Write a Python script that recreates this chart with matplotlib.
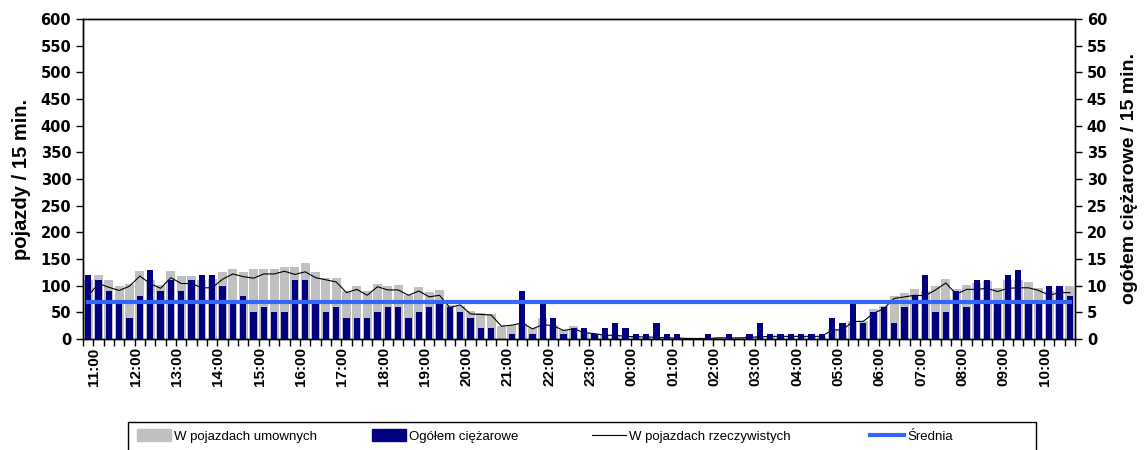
import matplotlib
matplotlib.use("Agg")
import numpy as np
import matplotlib.pyplot as plt
from matplotlib.patches import Patch, Rectangle
from matplotlib.lines import Line2D

plt.rcParams['font.family'] = ['Liberation Sans', 'DejaVu Sans']

godziny = ["11:00", "12:00", "13:00", "14:00", "15:00", "16:00", "17:00", "18:00",
           "19:00", "20:00", "21:00", "22:00", "23:00", "00:00", "01:00", "02:00",
           "03:00", "04:00", "05:00", "06:00", "07:00", "08:00", "09:00", "10:00"]

# pojazdy umowne / 15 min (lewa os)
umowne = [110, 120, 111, 99, 104, 128, 110, 102, 128, 119, 118, 110, 112, 126, 132, 126, 132, 132, 131,
          135, 135, 142, 126, 115, 114, 90, 99, 90, 103, 99, 101, 82, 97, 88, 92, 64, 62, 52,
          48, 46, 24, 26, 30, 20, 40, 26, 16, 24, 14, 10, 8, 8,
          6, 5, 4, 4, 3, 2, 1, 1, 2, 3, 3, 3, 5, 6, 6, 6, 6, 6, 6, 6,
          18, 18, 34, 34, 56, 61, 81, 86, 94, 90, 99, 112, 94, 101, 105, 108, 96, 110, 111, 107, 96, 90, 92, 99]

# pojazdy rzeczywiste / 15 min (lewa os)
rzeczywiste = [81, 104, 97, 91, 99, 118, 104, 95, 115, 104, 104, 96, 96, 112, 122, 117, 114, 122, 122,
               127, 121, 126, 115, 111, 107, 87, 93, 82, 98, 92, 92, 82, 90, 79, 82, 59, 64, 47,
               46, 45, 24, 26, 30, 19, 27, 25, 16, 19, 12, 10, 7, 7,
               5, 4, 4, 3, 2, 2, 1, 1, 1, 2, 2, 2, 3, 4, 5, 5, 5, 5, 5, 5,
               17, 17, 33, 33, 48, 57, 76, 79, 82, 81, 92, 105, 84, 93, 93, 95, 89, 95, 96, 96, 91, 82, 87, 87]

# ogolem ciezarowe / 15 min (prawa os)
ciezarowe = [12, 11, 9, 7, 4, 8, 13, 9, 11, 9, 11, 12, 12, 10, 7, 8, 5, 6, 5, 5,
             11, 11, 7, 5, 6, 4, 4, 4, 5, 6, 6, 4, 5, 6, 7, 6, 5, 4,
             2, 2, 0, 1, 9, 1, 7, 4, 1, 2, 2, 1, 2, 3, 2, 1, 1, 3, 1, 1,
             0, 0, 1, 0, 1, 0, 1, 3, 1, 1, 1, 1, 1, 1,
             4, 3, 7, 3, 5, 6, 3, 6, 8, 12, 5, 5, 9, 6, 11, 11, 7, 12, 13, 7, 7, 10, 10, 8]

srednia = 69  # w jednostkach lewej osi

x = np.arange(len(umowne))

fig = plt.figure(figsize=(11.44, 4.5), dpi=100)
ax = fig.add_axes([83 / 1144, 1 - 339 / 450, 992 / 1144, 320 / 450])
ax2 = ax.twinx()

ax.bar(x, umowne, width=0.85, color='#C0C0C0', zorder=2)
ax.plot(x, rzeczywiste, color='black', lw=0.8, zorder=3)
ax2.bar(x, ciezarowe, width=0.62, color='#000080', zorder=2)
# srednia przeliczona na skale prawej osi (600 -> 60)
ax2.plot(x, [srednia / 10] * len(x), color='#3366FF', lw=3, zorder=4)

ax.set_xlim(-0.5, len(x) - 0.5)
ax.set_ylim(0, 600)
ax2.set_ylim(0, 60)
ax.set_yticks(np.arange(0, 601, 50))
ax2.set_yticks(np.arange(0, 61, 5))

# podpisy godzin lekko przesuniete w prawo, jak w oryginale
ax.set_xticks(np.arange(0, len(x), 4) + 0.6)
ax.set_xticklabels(godziny, rotation=90, fontweight='bold', fontsize=11)
ax.set_xticks(np.arange(-0.5, len(x), 1), minor=True)
ax.tick_params(axis='x', which='major', length=0, pad=6)
ax.tick_params(axis='x', which='minor', length=5, width=1, direction='out')

tick_font = dict(family='DejaVu Sans', weight='bold', size=10.5)
ax.tick_params(axis='y', length=5, width=1, direction='out')
ax2.tick_params(axis='y', length=5, width=1, direction='out')
for lab in ax.get_yticklabels() + ax2.get_yticklabels():
    lab.set_fontproperties(tick_font)

ax.set_ylabel('pojazdy / 15 min.', fontweight='bold', fontsize=14.5, labelpad=7)
ax2.set_ylabel('ogółem ciężarowe / 15 min.', fontweight='bold', fontsize=14, labelpad=10)

for a in (ax, ax2):
    for s in a.spines.values():
        s.set_linewidth(1)
        s.set_color('black')

# legenda w ramce u dolu (ucieta przez krawedz obrazka)
fig.patches.append(Rectangle((128 / 1144, -0.05), 908 / 1144, 0.05 + (450 - 422) / 450,
                             transform=fig.transFigure, fill=False, edgecolor='black', lw=1))
handles = [Patch(color='#C0C0C0'), Patch(color='#000080'),
           Line2D([], [], color='black', lw=0.8), Line2D([], [], color='#3366FF', lw=3)]
labels = ['W pojazdach umownych', 'Ogółem ciężarowe', 'W pojazdach rzeczywistych', 'Średnia']
starts = [137, 372, 592, 870]
for h, l, s in zip(handles, labels, starts):
    fig.legend([h], [l], loc='center left', bbox_to_anchor=(s / 1144, 1 - 436 / 450),
               frameon=False, fontsize=9.5, handlelength=2.6, handleheight=1.0,
               handletextpad=0.2, borderpad=0, borderaxespad=0)

fig.savefig('out.png', dpi=100)
